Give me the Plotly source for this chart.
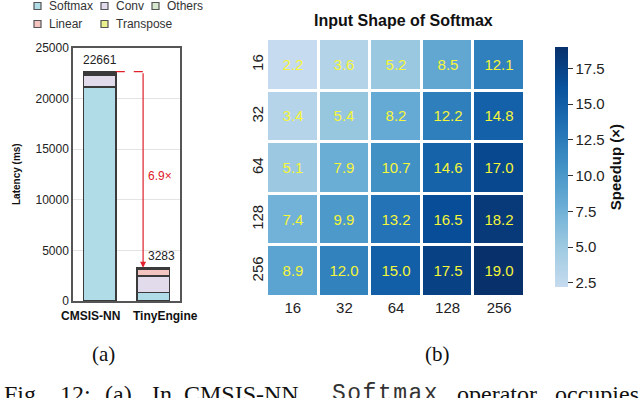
import plotly.graph_objects as go

# (a) latency breakdown, ms
systems = ["CMSIS-NN", "TinyEngine"]
operators = ["Softmax", "Conv", "Others", "Linear", "Transpose"]
latency = {
    "Softmax": [21150, 850],
    "Conv": [1150, 1600],
    "Others": [120, 80],
    "Linear": [160, 600],
    "Transpose": [81, 153],
}
totals = [22661, 3283]
op_colors = {
    "Softmax": "#b0dce8",
    "Conv": "#e2dbec",
    "Others": "#d6e9cf",
    "Linear": "#f4c4c0",
    "Transpose": "#e9ef8c",
}
speedup_label = "6.9×"

# (b) speedup heatmap
shapes_x = ["16", "32", "64", "128", "256"]
shapes_y = ["16", "32", "64", "128", "256"]
speedup = [
    [2.2, 3.6, 5.2, 8.5, 12.1],
    [3.4, 5.4, 8.2, 12.2, 14.8],
    [5.1, 7.9, 10.7, 14.6, 17.0],
    [7.4, 9.9, 13.2, 16.5, 18.2],
    [8.9, 12.0, 15.0, 17.5, 19.0],
]
cbar_ticks = [2.5, 5.0, 7.5, 10.0, 12.5, 15.0, 17.5]
latency_ticks = [0, 5000, 10000, 15000, 20000, 25000]

W, H = 640, 398
SANS = "Liberation Sans, Arial, sans-serif"
SERIF = "Liberation Serif, Times New Roman, serif"
MONO = "Liberation Mono, DejaVu Sans Mono, monospace"
RED = "#e0202a"


def px(x):
    return x / W


def py(y):
    return 1 - y / H


def label(x, y, text, size, family=SANS, color="#111", anchor="center", vanchor="middle", **kw):
    return dict(x=px(x), y=py(y), text=text, showarrow=False, xanchor=anchor,
                yanchor=vanchor, font=dict(family=family, size=size, color=color),
                xref="paper", yref="paper", **kw)


fig = go.Figure()

for op in operators:
    fig.add_trace(
        go.Bar(
            x=systems,
            y=latency[op],
            name=op,
            width=0.6,
            marker=dict(color=op_colors[op], line=dict(color="#3a3a3a", width=1.5)),
            xaxis="x",
            yaxis="y",
            showlegend=False,
        )
    )

fig.add_trace(
    go.Heatmap(
        x=shapes_x,
        y=shapes_y,
        z=speedup,
        xaxis="x2",
        yaxis="y2",
        xgap=3,
        ygap=3,
        zmin=2.2,
        zmax=19.0,
        colorscale=[
            [0.0, "#c6dbef"],
            [1 / 6, "#9ecae1"],
            [2 / 6, "#6baed6"],
            [3 / 6, "#4292c6"],
            [4 / 6, "#2171b5"],
            [5 / 6, "#08519c"],
            [1.0, "#08306b"],
        ],
        text=[[f"{v:.1f}" for v in row] for row in speedup],
        texttemplate="%{text}",
        textfont=dict(family=SANS, size=15, color="#f5f53a"),
        showlegend=False,
        colorbar=dict(
            x=px(545),
            xanchor="left",
            y=py(297),
            yanchor="bottom",
            len=(297 - 37) / H,
            lenmode="fraction",
            thickness=13,
            outlinewidth=0,
            tickvals=cbar_ticks,
            ticktext=[f"{t:.1f}" for t in cbar_ticks],
            ticks="outside",
            ticklen=5,
            tickcolor="#333",
            tickfont=dict(family=SANS, size=15, color="#222"),
            title=dict(
                text="<b>Speedup (×)</b>",
                side="right",
                font=dict(family=SANS, size=15, color="#111"),
            ),
        ),
    )
)

annotations = [
    dict(x=systems[0], y=totals[0], text=str(totals[0]), showarrow=False,
         xanchor="center", yanchor="bottom", yshift=3,
         font=dict(family=SANS, size=12, color="#222"), xref="x", yref="y"),
    dict(x=systems[1], y=totals[1], text=str(totals[1]), showarrow=False,
         xanchor="center", yanchor="bottom", yshift=3, xshift=8,
         font=dict(family=SANS, size=12, color="#222"), xref="x", yref="y"),
    dict(x=0.81, y=totals[1], ax=0.81, ay=totals[0], xref="x", yref="y",
         axref="x", ayref="y", text="", showarrow=True, arrowhead=2,
         arrowsize=1, arrowwidth=1.2, arrowcolor=RED),
    dict(x=0.86, y=12400, text=speedup_label, showarrow=False, xanchor="left",
         font=dict(family=SANS, size=12, color=RED), xref="x", yref="y"),
    # axis title and category labels of (a)
    label(16, 174, "<b>Latency (ms)</b>", 10, textangle=-90),
    label(90, 316, f"<b>{systems[0]}</b>", 12),
    label(165, 316, f"<b>{systems[1]}</b>", 12),
    label(403, 20, "<b>Input Shape of Softmax</b>", 16),
    label(103, 354, "(a)", 21, family=SERIF),
    label(437, 354, "(b)", 21, family=SERIF),
]

# legend drawn by hand: two rows, as in the paper figure
legend_pos = {
    "Softmax": (34, 6),
    "Conv": (101, 6),
    "Others": (152, 6),
    "Linear": (34, 24),
    "Transpose": (101, 24),
}
shapes = [
    dict(type="line", xref="x", yref="y", x0=0.3, x1=0.9, y0=totals[0], y1=totals[0],
         line=dict(color=RED, width=1.2, dash="dash")),
]
for op in operators:
    lx, ly = legend_pos[op]
    shapes.append(
        dict(type="rect", xref="paper", yref="paper",
             x0=px(lx), x1=px(lx + 7), y0=py(ly + 3.5), y1=py(ly - 3.5),
             fillcolor=op_colors[op], line=dict(color="#555", width=1.2))
    )
    annotations.append(label(lx + 13, ly, op, 12, color="#333", anchor="left"))

# caption line, cut by the bottom edge as in the source page
caption = [
    (2, "Fig.", SERIF), (58, "12:", SERIF), (103, "(a)", SERIF), (150, "In", SERIF),
    (182, "CMSIS-NN,", SERIF),
    (330, "<span style='letter-spacing:1.5px'>Softmax</span>", MONO),
    (455, "operator", SERIF), (553, "occupies", SERIF),
]
for cx, word, fam in caption:
    annotations.append(
        label(cx, 379, word, 23 if fam == MONO else 24, family=fam,
              color="#333" if fam == MONO else "#111", anchor="left", vanchor="top")
    )

fig.update_layout(
    width=W,
    height=H,
    margin=dict(l=0, r=0, t=0, b=0, autoexpand=False),
    paper_bgcolor="white",
    plot_bgcolor="white",
    barmode="stack",
    showlegend=False,
    font=dict(family=SANS, color="#222"),
    xaxis=dict(
        domain=[px(73), px(180)],
        range=[-0.5, 1.5],
        showline=True,
        mirror=True,
        linecolor="#555",
        linewidth=1.5,
        showticklabels=False,
        ticks="",
    ),
    yaxis=dict(
        domain=[py(301), py(48)],
        range=[0, 25000],
        tickvals=latency_ticks,
        ticktext=[str(t) for t in latency_ticks],
        showgrid=True,
        gridcolor="#e4e4e4",
        showline=True,
        mirror=True,
        linecolor="#555",
        linewidth=1.5,
        tickfont=dict(family=SANS, size=12, color="#222"),
        zeroline=False,
    ),
    xaxis2=dict(
        domain=[px(267), px(525)],
        anchor="y2",
        showgrid=False,
        tickfont=dict(family=SANS, size=15, color="#222"),
        ticks="",
    ),
    yaxis2=dict(
        domain=[py(297), py(39)],
        anchor="x2",
        autorange="reversed",
        showgrid=False,
        tickangle=-90,
        tickfont=dict(family=SANS, size=15, color="#222"),
        ticks="",
    ),
    shapes=shapes,
    annotations=annotations,
)

# the page's default body margin would push the figure 8px off the window
fig.write_html(
    "out.html",
    config={"displayModeBar": False},
    post_script="document.body.style.margin = '0';",
)
